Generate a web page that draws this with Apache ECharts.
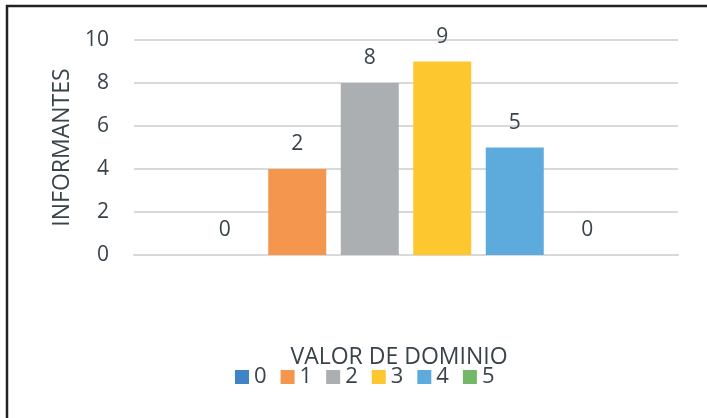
<!DOCTYPE html>
<html>
<head>
<meta charset="utf-8">
<script src="https://cdn.jsdelivr.net/npm/echarts@6/dist/echarts.min.js"></script>
<style>html,body{margin:0;padding:0;background:#fff}#c{width:707px;height:418px}</style>
</head>
<body>
<div id="c"></div>
<script>
const categories = [''];
const seriesNames = ['0', '1', '2', '3', '4', '5'];
const values = [0, 4, 8, 9, 5, 0];
const labelTexts = ['0', '2', '8', '9', '5', '0'];
const colors = ['#3f84c6', '#f5964f', '#abafb1', '#fdc72f', '#5dabdd', '#72b866'];
const yTicks = [0, 2, 4, 6, 8, 10];

const textColor = '#38444a';
const font = 'Open Sans';

const chart = echarts.init(document.getElementById('c'), null, {renderer: 'canvas'});
chart.setOption({
  animation: false,
  backgroundColor: '#ffffff',
  graphic: [{
    type: 'rect',
    shape: {x: 7, y: 6, width: 900, height: 600},
    style: {fill: 'none', stroke: '#222222', lineWidth: 2.5},
    silent: true
  }],
  grid: {left: 134, right: 29, top: 40, bottom: 163},
  legend: {
    data: seriesNames,
    left: 235,
    top: 366,
    padding: 0,
    itemWidth: 14,
    itemHeight: 14,
    itemGap: 14,
    icon: 'rect',
    textStyle: {fontFamily: font, fontSize: 22, color: textColor, padding: [0, 0, 0, 0]}
  },
  xAxis: {
    type: 'category',
    data: categories,
    name: 'VALOR DE DOMINIO',
    nameLocation: 'middle',
    nameGap: 91,
    nameTextStyle: {fontFamily: font, fontSize: 23, color: textColor, padding: [0, 14, 0, 0]},
    axisLine: {show: true, lineStyle: {color: '#d9d9d9', width: 2}},
    axisTick: {show: false},
    axisLabel: {show: false}
  },
  yAxis: {
    type: 'value',
    min: yTicks[0],
    max: yTicks[yTicks.length - 1],
    interval: yTicks[1] - yTicks[0],
    name: 'INFORMANTES',
    nameLocation: 'middle',
    nameGap: 60,
    nameRotate: 90,
    nameTextStyle: {fontFamily: font, fontSize: 23, color: textColor},
    axisLine: {show: false},
    axisTick: {show: false},
    axisLabel: {fontFamily: font, fontSize: 21, color: textColor, margin: 25},
    splitLine: {lineStyle: {color: '#d9d9d9', width: 2}}
  },
  series: seriesNames.map((name, i) => ({
    name: name,
    type: 'bar',
    data: [values[i]],
    barGap: '25%',
    barCategoryGap: '22.7%',
    itemStyle: {color: colors[i]},
    label: {
      show: true,
      position: 'top',
      distance: 14,
      formatter: () => labelTexts[i],
      fontFamily: font,
      fontSize: 21,
      color: textColor
    }
  }))
});
</script>
</body>
</html>
